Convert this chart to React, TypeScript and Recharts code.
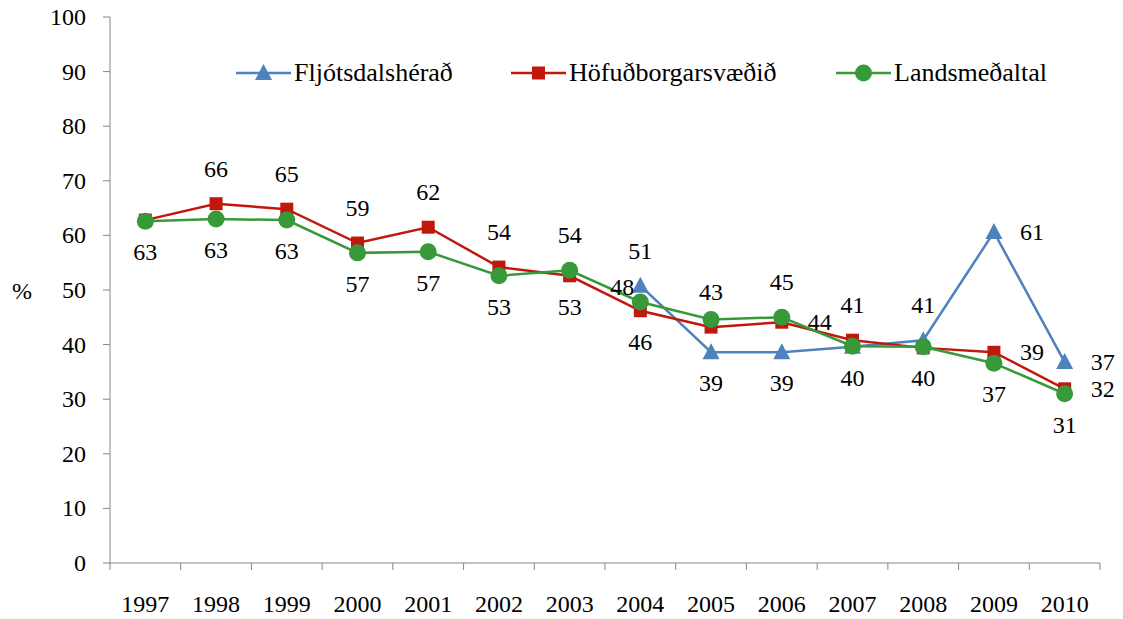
import React from 'react'
import {
  LineChart,
  Line,
  XAxis,
  YAxis,
  LabelList,
} from 'recharts'

const years = ['1997', '1998', '1999', '2000', '2001', '2002', '2003', '2004', '2005', '2006', '2007', '2008', '2009', '2010']
const fljotsdalsherad = [null, null, null, null, null, null, null, 50.8, 38.6, 38.6, 39.6, 40.8, 60.6, 36.8]
const hofudborgarsvaedid = [62.8, 65.8, 64.8, 58.6, 61.5, 54.2, 52.6, 46.2, 43.2, 44.1, 40.8, 39.4, 38.6, 31.9]
const landsmedaltal = [62.6, 63.0, 62.8, 56.8, 57.0, 52.6, 53.6, 47.8, 44.6, 45.0, 39.7, 39.6, 36.6, 31.0]
const yTicks = [0, 10, 20, 30, 40, 50, 60, 70, 80, 90, 100]

// where each data label sits relative to its point
const fljotLabelPos = ['none', 'none', 'none', 'none', 'none', 'none', 'none', 'above', 'below', 'below', 'below', 'above', 'right', 'right']
const hofudLabelPos = ['none', 'above', 'above', 'above', 'above', 'above', 'below', 'below', 'above', 'right', 'above', 'none', 'right', 'right']
const landsLabelPos = ['below', 'below', 'below', 'below', 'below', 'below', 'above', 'left', 'none', 'above', 'none', 'below', 'below', 'below']

const FONT = '"Liberation Serif", "DejaVu Serif", "Times New Roman", Tinos, serif'
const FONT_SIZE = 24
const LEGEND_FONT_SIZE = 26
const textStyle = { fontFamily: FONT, fontSize: FONT_SIZE, fill: '#000' }
const BLUE = '#4F81BD'
const RED = '#C0180C'
const GREEN = '#38993A'

const W = 1123
const H = 619
const PLOT_LEFT = 110
const PLOT_RIGHT = 1100
const PLOT_TOP = 17
const PLOT_BOTTOM = 563
const BAND = (PLOT_RIGHT - PLOT_LEFT) / years.length

const data = years.map((year, i) => ({
  year,
  fljot: fljotsdalsherad[i],
  hofud: hofudborgarsvaedid[i],
  lands: landsmedaltal[i],
}))

const offsets: Record<string, [number, number]> = {
  above: [0, -35],
  below: [0, 31],
  right: [38, 0],
  left: [-18, -15],
}

function makeLabel(positions: string[]) {
  return (props: any) => {
    const { x, y, value, index } = props
    const pos = positions[index]
    if (value == null || pos === 'none' || x == null || y == null) return null
    const [dx, dy] = offsets[pos]
    return (
      <text x={x + dx} y={y + dy} textAnchor="middle" dominantBaseline="central" style={textStyle}>
        {Math.round(value)}
      </text>
    )
  }
}

function Triangle({ cx, cy, color }: { cx: number; cy: number; color: string }) {
  return <polygon points={`${cx},${cy - 9} ${cx - 8.5},${cy + 7} ${cx + 8.5},${cy + 7}`} fill={color} />
}

function Square({ cx, cy, color }: { cx: number; cy: number; color: string }) {
  return <rect x={cx - 6.5} y={cy - 6.5} width={13} height={13} fill={color} />
}

function Circle({ cx, cy, color }: { cx: number; cy: number; color: string }) {
  return <circle cx={cx} cy={cy} r={8.5} fill={color} />
}

const dotFor = (Shape: any, color: string) => (props: any) => {
  const { cx, cy, value, index } = props
  if (value == null || cx == null || cy == null) return <g key={index} />
  return <Shape key={index} cx={cx} cy={cy} color={color} />
}

const XTick = (props: any) => {
  const { x, payload, index } = props
  const left = x - BAND / 2
  return (
    <g>
      <line x1={left} x2={left} y1={PLOT_BOTTOM} y2={PLOT_BOTTOM + 7} stroke="#868686" />
      {index === years.length - 1 && (
        <line x1={x + BAND / 2} x2={x + BAND / 2} y1={PLOT_BOTTOM} y2={PLOT_BOTTOM + 7} stroke="#868686" />
      )}
      <text x={x} y={612} textAnchor="middle" style={textStyle}>
        {payload.value}
      </text>
    </g>
  )
}

const YTick = (props: any) => {
  const { y, payload } = props
  return (
    <g>
      <line x1={PLOT_LEFT - 7} x2={PLOT_LEFT} y1={y} y2={y} stroke="#868686" />
      <text x={PLOT_LEFT - 24} y={y} textAnchor="end" dominantBaseline="central" style={textStyle}>
        {payload.value}
      </text>
    </g>
  )
}

const series = [
  { name: 'Fljótsdalshérað', color: BLUE, Shape: Triangle, left: 236 },
  { name: 'Höfuðborgarsvæðið', color: RED, Shape: Square, left: 511 },
  { name: 'Landsmeðaltal', color: GREEN, Shape: Circle, left: 836 },
]

function LegendBox() {
  return (
    <>
      {series.map((s) => (
        <div
          key={s.name}
          style={{
            position: 'absolute',
            left: s.left,
            top: 58,
            height: 30,
            display: 'flex',
            alignItems: 'center',
            fontFamily: FONT,
            fontSize: LEGEND_FONT_SIZE,
            color: '#000',
            whiteSpace: 'nowrap',
          }}
        >
          <svg width={55} height={24} style={{ marginRight: 3 }}>
            <line x1={0} x2={55} y1={12} y2={12} stroke={s.color} strokeWidth={2.5} />
            <s.Shape cx={27.5} cy={12} color={s.color} />
          </svg>
          <span>{s.name}</span>
        </div>
      ))}
    </>
  )
}

export default function App() {
  return (
    <div style={{ position: 'absolute', left: 0, top: 0, width: W, height: H, background: '#fff' }}>
      <LineChart
        width={W}
        height={H}
        data={data}
        margin={{ top: PLOT_TOP, right: W - PLOT_RIGHT, left: 0, bottom: 0 }}
      >
        <XAxis
          dataKey="year"
          interval={0}
          axisLine={{ stroke: '#868686' }}
          tickLine={false}
          tick={<XTick />}
          height={H - PLOT_BOTTOM}
          padding={{ left: BAND / 2, right: BAND / 2 }}
        />
        <YAxis
          domain={[0, 100]}
          ticks={yTicks}
          interval={0}
          width={PLOT_LEFT}
          axisLine={{ stroke: '#868686' }}
          tickLine={false}
          tick={<YTick />}
          label={{ value: '%', position: 'insideLeft', offset: 12, style: textStyle }}
        />
        <Line
          dataKey="fljot"
          name="Fljótsdalshérað"
          stroke={BLUE}
          strokeWidth={2.5}
          dot={dotFor(Triangle, BLUE)}
          activeDot={false}
          isAnimationActive={false}
        >
          <LabelList dataKey="fljot" content={makeLabel(fljotLabelPos)} />
        </Line>
        <Line
          dataKey="hofud"
          name="Höfuðborgarsvæðið"
          stroke={RED}
          strokeWidth={2.5}
          dot={dotFor(Square, RED)}
          activeDot={false}
          isAnimationActive={false}
        >
          <LabelList dataKey="hofud" content={makeLabel(hofudLabelPos)} />
        </Line>
        <Line
          dataKey="lands"
          name="Landsmeðaltal"
          stroke={GREEN}
          strokeWidth={2.5}
          dot={dotFor(Circle, GREEN)}
          activeDot={false}
          isAnimationActive={false}
        >
          <LabelList dataKey="lands" content={makeLabel(landsLabelPos)} />
        </Line>
      </LineChart>
      <LegendBox />
    </div>
  )
}
